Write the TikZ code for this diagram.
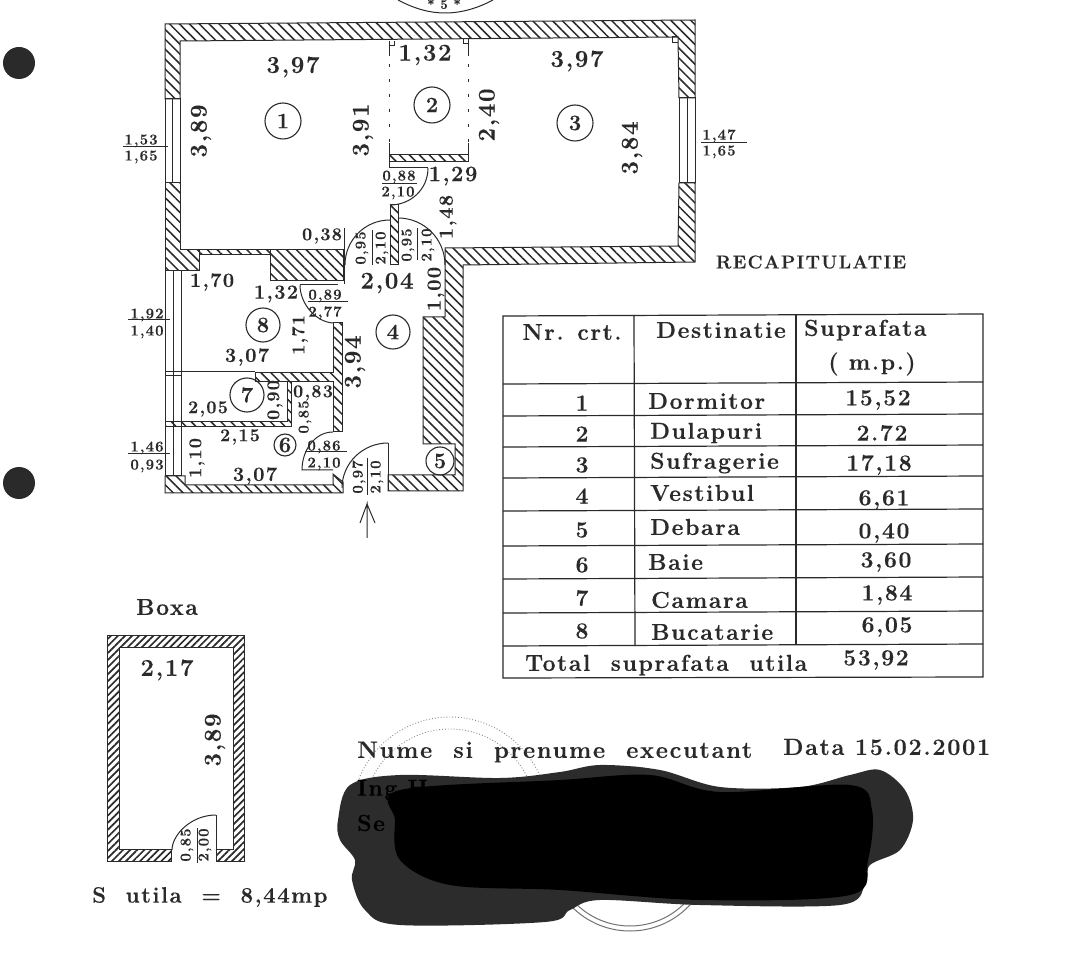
\documentclass[tikz,border=0pt]{standalone}
\usepackage{fontspec}
\setmainfont{Latin Modern Roman}[LetterSpace=7,BoldFeatures={FakeBold=0.3}]
\usetikzlibrary{patterns.meta}
\definecolor{ink}{HTML}{2A2A2A}
\definecolor{blobgray}{HTML}{2C2C2C}
\tikzset{
 wallb/.style={draw=ink,line width=1pt,pattern={Lines[angle=-45,distance=7pt,line width=1.5pt]},pattern color=ink},
 wallf/.style={draw=ink,line width=1pt,pattern={Lines[angle=45,distance=5pt,line width=1.7pt]},pattern color=ink},
 ln/.style={draw=ink,line width=1pt},
 bigd/.style={text=ink,inner sep=0pt,font=\fontsize{24}{26}\selectfont\bfseries},
 midd/.style={text=ink,inner sep=0pt,font=\fontsize{20}{22}\selectfont\bfseries},
 lowd/.style={text=ink,inner sep=0pt,font=\fontsize{18}{20}\selectfont\bfseries},
 smld/.style={text=ink,inner sep=0pt,font=\fontsize{15}{17}\selectfont\bfseries},
 tbl/.style={text=ink,inner sep=0pt,font=\fontsize{23}{25}\selectfont\bfseries},
 lefttbl/.style={tbl,anchor=west},
 rot/.style={rotate=90},
 room/.style={circle,draw=ink,line width=1.1pt,minimum size=36pt,inner sep=0pt,text=ink,font=\fontsize{22}{24}\selectfont\bfseries},
 roomb/.style={room,minimum size=#1},
 gridl/.style={draw=ink,line width=1.2pt},
 stampl/.style={draw=black!45,line width=.9pt,dotted},
}
\begin{document}
\begin{tikzpicture}[x=1pt,y=-1pt]
\useasboundingbox (0,0) rectangle (1080,973);
\fill[white] (0,0) rectangle (1080,973);
% binder holes
\fill[ink] (19,63) circle (16);
\fill[ink] (19,483) circle (16);
% top stamp
\draw[ink,line width=1pt] (398,0) .. controls (415,9) and (430,13) .. (445,13) .. controls (462,13) and (478,8) .. (493,0);
\node[text=ink,inner sep=0pt,font=\fontsize{13}{15}\selectfont\bfseries] (stamptop) at (444,4) {* 5 *};
% main walls
\path[wallb] (165,24) -- (695,20) -- (695,98) -- (679,98) -- (678,37) -- (180,41) -- (180,99) -- (165,99) -- cycle;
\draw[ln] (165,99) rectangle (180,183);
\draw[ln] (172,99) -- (172,183);
\draw[ln] (679,98) rectangle (695,183);
\draw[ln] (687,98) -- (687,183);
\path[wallb] (165,183) -- (180,183) -- (180,250) -- (199,250) -- (199,271) -- (165,271) -- cycle;
\path[wallb] (199,250) -- (270,250) -- (270,255) -- (199,255) -- cycle;
\path[wallb] (270,250) -- (343,250) -- (343,281) -- (270,281) -- cycle;
\path[wallb] (695,183) -- (695,262) -- (463,265) -- (463,491) -- (388,491) -- (388,475) -- (455,475) -- (455,444) -- (423,444) -- (423,317) -- (445,317) -- (445,248) -- (678,246) -- (679,183) -- cycle;
\path[wallb] (390,205) -- (398,205) -- (398,265) -- (390,265) -- cycle;
% closet 2
\path[wallb] (389,155) -- (468,155) -- (468,162) -- (389,162) -- cycle;
\draw[ln] (389,162) -- (389,168) -- (428,168);
\draw[ln] (389,143) -- (389,155) (468,143) -- (468,155);
\draw[ln] (389,41) -- (389,56) (468,39) -- (468,56);
\draw[ln] (389,46) -- (394,46) -- (394,41) (468,44) -- (463,44) -- (463,39);
\draw[ln,dash pattern=on 3pt off 12pt] (389,64) -- (389,143);
\draw[ln,dash pattern=on 3pt off 12pt] (468,64) -- (468,143);
\draw[ln] (678,37) -- (672,37) -- (672,43) -- (678,43);
% lower left
\draw[ln] (165,271) rectangle (181,476);
\draw[ln] (173,271) -- (173,476);
\draw[ln] (165,372) -- (255,372) (165,376) -- (181,376);
\path[wallb] (333,323) -- (342,323) -- (342,432) -- (333,432) -- (333,382) -- (255,382) -- (255,373) -- (333,373) -- cycle;
\path[wallb] (165,422) -- (287,422) -- (287,382) -- (291,382) -- (291,427) -- (165,427) -- cycle;
\path[wallb] (165,476) -- (185,476) -- (185,485) -- (333,485) -- (333,474) -- (343,482) -- (343,493) -- (165,493) -- cycle;
% doors
\draw[ln] (428,168) .. controls (428,189) and (411,205) .. (390,205);
\draw[ln] (345,265) .. controls (345,240) and (365,220) .. (390,220);
\draw[ln] (398,218) .. controls (424,218) and (445,239) .. (445,265);
\draw[ln] (300,285) .. controls (300,304) and (316,322) .. (333,323);
\draw[ln] (300,285) -- (338,285);
\draw[ln] (333,432) .. controls (315,432) and (302,450) .. (302,470) -- (333,470);
\draw[ln] (388,443) .. controls (363,443) and (342,463) .. (342,488);
\draw[ln] (388,443) -- (388,491);
\draw[ln] (344,228) -- (344,284);
% fraction bars
\draw[ln] (382,184) -- (417,184);
\draw[ln] (372,230) -- (372,265);
\draw[ln] (417,228) -- (417,260);
\draw[ln] (123,147) -- (168,147);
\draw[ln] (701,143) -- (747,143);
\draw[ln] (128,320) -- (170,320);
\draw[ln] (128,454) -- (170,454);
\draw[ln] (308,302) -- (348,302);
\draw[ln] (305,452) -- (347,452);
\draw[ln] (367,458) -- (367,495);
% entry arrow
\coordinate (arrowtail) at (367,538);
\coordinate (arrowtip) at (367,504);
\draw[ln] (arrowtail) -- (arrowtip) -- (360,523) (arrowtip) -- (375,523);
% room circles
\node[room] (r1) at (283,121) {1};
\node[room] (r2) at (432,105) {2};
\node[room] (r3) at (575,123) {3};
\node[roomb=34pt] (r4) at (393,332) {4};
\node[roomb=28pt] (r5) at (440,461) {5};
\node[roomb=22pt] (r6) at (285,445) {6};
\node[roomb=34pt] (r7) at (247,395) {7};
\node[roomb=34pt] (r8) at (263,325) {8};
% dimensions
\node[bigd] (d1) at (293,67) {3,97};
\node[bigd,rot] (d2) at (201,131) {3,89};
\node[bigd,rot] (d3) at (363,130) {3,91};
\node[bigd] (d4) at (425,55) {1,32};
\node[bigd,rot] (d5) at (489,115) {2,40};
\node[bigd] (d6) at (577,61) {3,97};
\node[bigd,rot] (d7) at (632,148) {3,84};
\node[midd,font=\fontsize{22}{24}\selectfont\bfseries] (d8) at (453,176) {1,29};
\node[midd,rot] (d9) at (448,217) {1,48};
\node[bigd] (d10) at (387,283) {2,04};
\node[midd,rot] (d11) at (436,289) {1,00};
\node[lowd] (d12) at (322,236) {0,38};
\node[midd] (d13) at (212,282) {1,70};
\node[midd] (d14) at (276,294) {1,32};
\node[lowd,rot] (d15) at (300,335) {1,71};
\node[midd] (d16) at (247,357) {3,07};
\node[bigd,rot] (d17) at (355,362) {3,94};
\node[lowd,rot] (d18) at (275,400) {0,90};
\node[lowd] (d19) at (313,393) {0,83};
\node[smld,rot] (d20) at (305,417) {0,85};
\node[lowd] (d21) at (208,409) {2,05};
\node[lowd] (d22) at (240,437) {2,15};
\node[lowd,rot] (d23) at (197,458) {1,10};
\node[midd] (d24) at (255,476) {3,07};
% fractions
\node[smld] (f1) at (141,141) {1,53};
\node[smld] (f2) at (141,157) {1,65};
\node[smld] (f3) at (719,136) {1,47};
\node[smld] (f4) at (719,152) {1,65};
\node[smld] (f5) at (399,177) {0,88};
\node[smld] (f6) at (398,193) {2,10};
\node[smld,rot] (f7) at (362,248) {0,95};
\node[smld,rot] (f8) at (382,248) {2,10};
\node[smld,rot] (f9) at (408,245) {0,95};
\node[smld,rot] (f10) at (428,245) {2,10};
\node[smld] (f11) at (325,296) {0,89};
\node[smld] (f12) at (325,313) {2,77};
\node[smld] (f13) at (147,315) {1,92};
\node[smld] (f14) at (147,332) {1,40};
\node[smld] (f15) at (147,448) {1,46};
\node[smld] (f16) at (147,466) {0,93};
\node[smld] (f17) at (324,447) {0,86};
\node[smld] (f18) at (324,464) {2,10};
\node[smld,rot] (f19) at (359,477) {0,97};
\node[smld,rot] (f20) at (377,477) {2,10};
% table
\node[tbl,font=\fontsize{18.5}{21}\selectfont\bfseries] (rec) at (811,262) {RECAPITULATIE};
\draw[gridl] (503,316) -- (983,314) -- (983,677) -- (503,678) -- cycle;
\draw[gridl] (503,384) -- (983,382);
\draw[gridl] (503,416) -- (983,414);
\draw[gridl] (503,447) -- (983,445);
\draw[gridl] (503,478) -- (983,476);
\draw[gridl] (503,511) -- (983,509);
\draw[gridl] (503,546) -- (983,544);
\draw[gridl] (503,579) -- (983,577);
\draw[gridl] (503,613) -- (983,611);
\draw[gridl] (503,646) -- (983,644);
\draw[gridl] (634,315) -- (635,646);
\draw[gridl] (796,315) -- (796,645);
\node[tbl] (h1) at (572,332) {Nr. crt.};
\node[tbl] (h2) at (721,330) {Destinatie};
\node[lefttbl] (h3) at (804,330) {Suprafata};
\node[tbl] (h4) at (872,364) {( m.p.)};
\node[tbl] (n1) at (582,403) {1};
\node[tbl] (n2) at (582,434) {2};
\node[tbl] (n3) at (582,465) {3};
\node[tbl] (n4) at (582,496) {4};
\node[tbl] (n5) at (582,530) {5};
\node[tbl] (n6) at (582,565) {6};
\node[tbl] (n7) at (582,598) {7};
\node[tbl] (n8) at (582,631) {8};
\node[lefttbl] (a1) at (648,401) {Dormitor};
\node[lefttbl] (a2) at (650,433) {Dulapuri};
\node[lefttbl] (a3) at (650,463) {Sufragerie};
\node[lefttbl] (a4) at (650,493) {Vestibul};
\node[lefttbl] (a5) at (650,527) {Debara};
\node[lefttbl] (a6) at (648,562) {Baie};
\node[lefttbl] (a7) at (651,600) {Camara};
\node[lefttbl] (a8) at (651,632) {Bucatarie};
\node[tbl] (v1) at (878,400) {15,52};
\node[tbl] (v2) at (882,433) {2.72};
\node[tbl] (v3) at (879,465) {17,18};
\node[tbl] (v4) at (884,500) {6,61};
\node[tbl] (v5) at (884,533) {0,40};
\node[tbl] (v6) at (886,562) {3,60};
\node[tbl] (v7) at (887,595) {1,84};
\node[tbl] (v8) at (887,627) {6,05};
\node[lefttbl] (tot) at (525,665) {Total~ suprafata~ utila};
\node[tbl] (totv) at (876,660) {53,92};
% Boxa
\node[tbl] (bx) at (167,607) {Boxa};
\path[wallf] (107,635) -- (244,635) -- (244,861) -- (216,861) -- (216,849) -- (233,849) -- (233,647) -- (119,647) -- (119,849) -- (171,849) -- (171,861) -- (107,861) -- cycle;
\draw[ln] (216,815) .. controls (191,815) and (172,835) .. (172,850);
\draw[ln] (216,815) -- (216,861);
\draw[ln] (197,828) -- (197,863);
\node[smld,rot] (b1) at (187,845) {0,85};
\node[smld,rot] (b2) at (205,845) {2,00};
\node[bigd] (b3) at (167,670) {2,17};
\node[bigd,rot] (b4) at (215,740) {3,89};
\node[tbl,anchor=west,font=\fontsize{22.2}{25}\selectfont\bfseries] (b5) at (92,897) {S~ utila~ =~ 8,44mp};
% faint stamps
\draw[stampl] (450,815) circle (98);
\draw[stampl] (450,815) circle (86);
\draw[draw=black!55,line width=1pt] (630,849) circle (82);
\draw[draw=black!55,line width=1pt] (630,849) circle (77);
% bottom text
\node[tbl,anchor=west,font=\fontsize{23.7}{26}\selectfont\bfseries] (ex) at (357,752) {Nume~ si~ prenume~ executant};
\node[tbl,anchor=west,font=\fontsize{23.5}{26}\selectfont\bfseries] (dt) at (783,747) {Data 15.02.2001};
% redaction
\fill[blobgray] plot[smooth cycle,tension=.55] coordinates {(338,820)(350,785)(400,775)(500,778)(560,772)(600,765)(660,770)(720,787)(800,787)(850,775)(880,770)(905,790)(913,820)(900,850)(870,865)(865,885)(840,905)(700,905)(600,900)(570,910)(545,922)(400,925)(365,910)(352,880)(355,860)(340,840)};
\node[tbl,text=black,anchor=west] (ing) at (357,790) {Ing H};
\node[tbl,text=black,anchor=west] (se) at (357,823) {Se};
\fill[black] plot[smooth cycle,tension=.55] coordinates {(400,790)(560,780)(650,775)(720,792)(850,785)(872,810)(868,860)(850,895)(700,900)(560,890)(450,885)(400,860)(395,820)};
\end{tikzpicture}
\end{document}
